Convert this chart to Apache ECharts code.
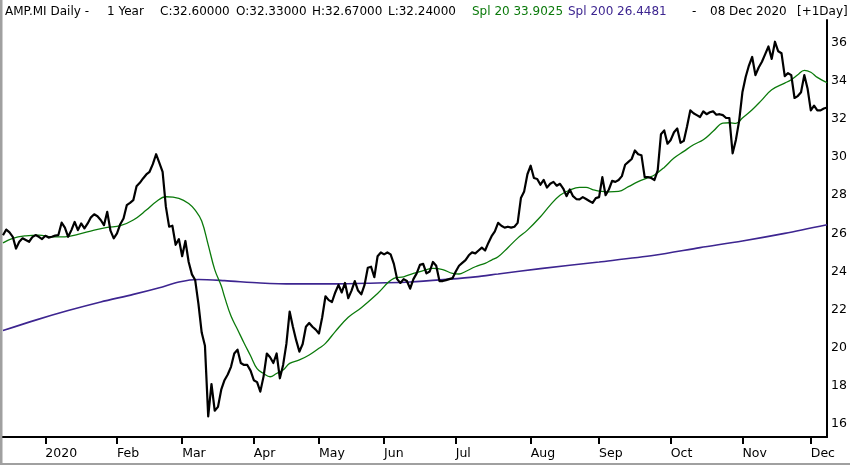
<!DOCTYPE html>
<html>
<head>
<meta charset="utf-8">
<title>AMP.MI Daily</title>
<script src="https://cdn.jsdelivr.net/npm/echarts@6/dist/echarts.min.js"></script>
<style>
html, body { margin: 0; padding: 0; background: #fff; }
#chart { width: 850px; height: 465px; }
</style>
</head>
<body>
<div id="chart"></div>
<script>
// trading calendar, one year up to 08 Dec 2020
var firstDay = '2019-12-09';
var lastDay = '2020-12-08';
var holidays = ['2019-12-24', '2019-12-25', '2019-12-26', '2019-12-31',
    '2020-01-01', '2020-04-10', '2020-04-13', '2020-05-01'];
var monthLabels = ['2020', 'Feb', 'Mar', 'Apr', 'May', 'Jun', 'Jul', 'Aug', 'Sep', 'Oct', 'Nov', 'Dec'];

// daily close, one value per trading day
var closes = [
    25.9, 26.2, 26.05, 25.82, 25.2, 25.56, 25.74, 25.65, 25.56, 25.8,
    25.91, 25.82, 25.7, 25.87, 25.78, 25.82, 25.88, 25.91, 26.56, 26.3,
    25.82, 26.17, 26.6, 26.17, 26.52, 26.26, 26.52, 26.84, 27.0, 26.9,
    26.7, 26.43, 27.13, 26.14, 25.74, 26.0, 26.48, 26.78, 27.48, 27.6,
    27.74, 28.47, 28.65, 28.88, 29.09, 29.23, 29.63, 30.15, 29.7, 29.23,
    27.4, 26.35, 26.4, 25.4, 25.7, 24.8, 25.6, 24.5, 23.85, 23.55,
    22.3, 20.8, 20.1, 16.4, 18.1, 16.7, 16.9, 17.8, 18.3, 18.6,
    19.0, 19.7, 19.9, 19.2, 19.1, 19.1, 18.8, 18.3, 18.2, 17.7,
    18.5, 19.7, 19.5, 19.2, 19.7, 18.4, 19.1, 20.2, 21.9, 21.1,
    20.4, 19.8, 20.2, 21.1, 21.3, 21.1, 20.95, 20.75, 21.6, 22.7,
    22.5, 22.4, 22.9, 23.3, 22.9, 23.4, 22.6, 23.0, 23.5, 23.0,
    22.8, 23.3, 24.2, 24.25, 23.7, 24.8, 25.0, 24.9, 25.0, 24.9,
    24.4, 23.6, 23.4, 23.6, 23.5, 23.1, 23.6, 23.9, 24.35, 24.4,
    23.9, 24.0, 24.5, 24.3, 23.5, 23.5, 23.55, 23.6, 23.65, 24.0,
    24.3, 24.45, 24.6, 24.85, 25.0, 24.95, 25.1, 25.25, 25.1, 25.5,
    25.85, 26.1, 26.55, 26.4, 26.3, 26.35, 26.3, 26.35, 26.55, 27.85,
    28.2, 29.1, 29.55, 28.9, 28.85, 28.55, 28.8, 28.4, 28.6, 28.7,
    28.5, 28.6, 28.35, 27.95, 28.3, 27.95, 27.8, 27.78, 27.9, 27.8,
    27.7, 27.6, 27.85, 27.9, 28.95, 28.0, 28.3, 28.75, 28.7, 28.8,
    29.0, 29.6, 29.75, 29.9, 30.35, 30.15, 30.1, 28.95, 28.95, 28.9,
    28.8, 29.3, 31.2, 31.4, 30.7, 30.9, 31.3, 31.5, 30.75, 30.85,
    31.6, 32.45, 32.3, 32.2, 32.1, 32.4, 32.25, 32.35, 32.4, 32.22,
    32.25, 32.2, 32.05, 32.05, 30.2, 30.9, 31.9, 33.4, 34.2, 34.8,
    35.25, 34.3, 34.7, 35.0, 35.4, 35.8, 35.15, 36.05, 35.55, 35.45,
    34.25, 34.4, 34.3, 33.1, 33.2, 33.4, 34.3, 33.6, 32.45, 32.7,
    32.45, 32.45, 32.55, 32.6
];

// Spl 20 at these trading-day positions
var spl20Pos = [0, 3, 7, 11, 15, 19, 23, 28, 32, 36, 40, 44, 47, 50, 54, 57, 59, 61, 63, 65,
    67, 68, 70, 72, 74, 76, 78, 80, 82, 84, 86, 88, 91, 94, 97, 99, 102, 106, 110, 115,
    120, 123, 126, 129, 132, 135, 138, 140, 142, 145, 148, 150, 152, 155, 158, 161, 165, 168, 171, 174,
    177, 179, 181, 183, 186, 189, 192, 195, 198, 200, 203, 206, 209, 212, 215, 218, 221, 223, 225, 227,
    230, 233, 236, 240, 242, 244, 246, 248, 250, 253];
var spl20Vals = [25.5, 25.74, 25.87, 25.91, 25.82, 25.82, 25.95, 26.17, 26.31, 26.4, 26.7, 27.22, 27.66, 27.92, 27.84, 27.57, 27.22, 26.65, 25.4, 24.1,
    23.25, 22.68, 21.66, 20.96, 20.25, 19.58, 18.9, 18.65, 18.48, 18.65, 18.83, 19.18, 19.36, 19.62, 19.97, 20.23, 20.85, 21.6, 22.1, 22.85,
    23.64, 23.72, 23.9, 24.04, 24.16, 24.1, 23.9, 23.87, 24.0, 24.25, 24.43, 24.6, 24.77, 25.25, 25.75, 26.17, 26.87, 27.48, 28.0, 28.27,
    28.41, 28.41, 28.3, 28.22, 28.18, 28.2, 28.45, 28.71, 28.92, 29.06, 29.46, 29.95, 30.3, 30.65, 30.91, 31.35, 31.78, 31.8, 31.77, 32.05,
    32.48, 33.0, 33.53, 33.88, 34.06, 34.32, 34.55, 34.45, 34.18, 33.9];

// Spl 200
var spl200Pos = [0, 10, 20, 30, 40, 48, 54, 60, 68, 79, 89, 102, 115, 125, 137, 145, 152, 165, 183, 200, 214, 227, 240, 253];
var spl200Vals = [20.9, 21.45, 21.95, 22.4, 22.8, 23.15, 23.45, 23.58, 23.52, 23.4, 23.35, 23.35, 23.4, 23.45, 23.6, 23.72, 23.87, 24.15, 24.5, 24.85, 25.25, 25.6, 26.0, 26.45];

function tradingDays(from, to, skip) {
    var out = [];
    var d = new Date(from + 'T00:00:00Z');
    var end = new Date(to + 'T00:00:00Z');
    while (d <= end) {
        var s = d.toISOString().slice(0, 10);
        var wd = d.getUTCDay();
        if (wd !== 0 && wd !== 6 && skip.indexOf(s) < 0) out.push(s);
        d.setUTCDate(d.getUTCDate() + 1);
    }
    return out;
}

var dates = tradingDays(firstDay, lastDay, holidays);

// first trading day of each month gets a tick and a label
var monthStart = dates.map(function (s, i) {
    return i > 0 && s.slice(0, 7) !== dates[i - 1].slice(0, 7);
});
function isMonthStart(index) {
    return monthStart[index];
}

function pairs(pos, vals) {
    return pos.map(function (p, j) { return [dates[p], vals[j]]; });
}

var myChart = echarts.init(document.getElementById('chart'));

var hdrFont = '12px "DejaVu Sans"';
function hdr(x, text, color) {
    return {
        type: 'text', left: x, top: 6, silent: true,
        style: { text: text, fill: color || '#000', font: hdrFont }
    };
}

myChart.setOption({
    animation: false,
    backgroundColor: '#fff',
    textStyle: { fontFamily: 'DejaVu Sans' },
    grid: { left: 3, right: 22, top: 20, bottom: 28, containLabel: false },
    graphic: [
        hdr(5, 'AMP.MI Daily -'),
        hdr(107, '1 Year'),
        hdr(160, 'C:32.60000'),
        hdr(236, 'O:32.33000'),
        hdr(312, 'H:32.67000'),
        hdr(388, 'L:32.24000'),
        hdr(472, 'Spl 20 33.9025', '#0b7a0b'),
        hdr(568, 'Spl 200 26.4481', '#3d2590'),
        hdr(692, '-'),
        hdr(710, '08 Dec 2020'),
        hdr(797, '[+1Day]'),
        // grey window frame
        { type: 'line', silent: true, shape: { x1: 1, y1: 0, x2: 1, y2: 465 },
          style: { stroke: '#a0a0a0', lineWidth: 3 } },
        { type: 'line', silent: true, shape: { x1: 0, y1: 464, x2: 850, y2: 464 },
          style: { stroke: '#a0a0a0', lineWidth: 2 } }
    ],
    xAxis: {
        type: 'category',
        data: dates,
        boundaryGap: false,
        axisLine: { lineStyle: { color: '#000', width: 2 } },
        axisTick: { interval: isMonthStart, length: 7, lineStyle: { color: '#000', width: 2 } },
        axisLabel: {
            interval: isMonthStart,
            align: 'left',
            margin: 10,
            color: '#000',
            fontSize: 12.5,
            fontFamily: 'DejaVu Sans',
            formatter: function (value) {
                return monthLabels[parseInt(value.slice(5, 7), 10) - 1];
            }
        },
        splitLine: { show: false }
    },
    yAxis: {
        type: 'value',
        position: 'right',
        min: 15.32,
        max: 37.19,
        splitNumber: 11,
        axisLine: { show: true, lineStyle: { color: '#000', width: 2 } },
        axisTick: { show: false },
        splitLine: { show: false },
        axisLabel: {
            margin: 4,
            color: '#000',
            fontSize: 12.5,
            fontFamily: 'DejaVu Sans',
            formatter: function (v) {
                var r = Math.round(v);
                return (Math.abs(v - r) < 1e-6 && r % 2 === 0) ? String(r) : '';
            }
        }
    },
    series: [
        {
            name: 'Spl 200', type: 'line', data: pairs(spl200Pos, spl200Vals),
            smooth: 0.3, showSymbol: false, silent: true, z: 2,
            lineStyle: { color: '#3d2590', width: 1.6 }
        },
        {
            name: 'Spl 20', type: 'line', data: pairs(spl20Pos, spl20Vals),
            smooth: 0.4, showSymbol: false, silent: true, z: 3,
            lineStyle: { color: '#0b7a0b', width: 1.3 }
        },
        {
            name: 'AMP.MI', type: 'line', data: closes,
            showSymbol: false, silent: true, z: 4,
            lineStyle: { color: '#000', width: 2.2, join: 'round' }
        }
    ]
});

window.addEventListener('resize', function () {
    myChart.resize();
});
</script>
</body>
</html>
